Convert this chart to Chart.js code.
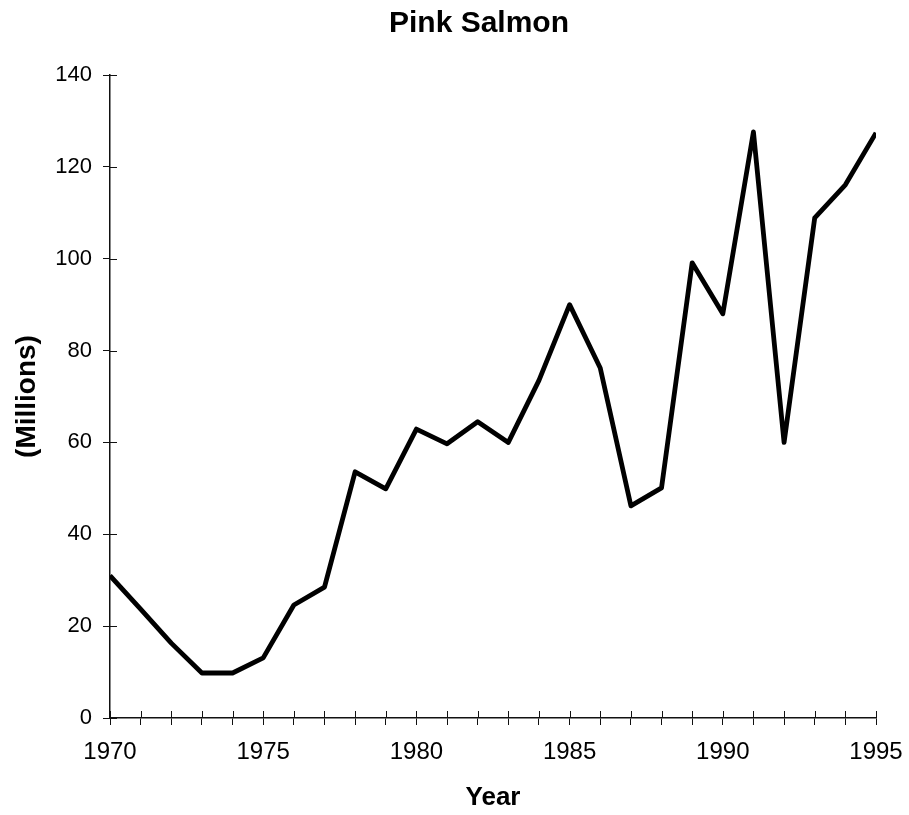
<!DOCTYPE html>
<html>
<head>
<meta charset="utf-8">
<script src="https://cdn.jsdelivr.net/npm/chart.js@4/dist/chart.umd.min.js"></script>
<style>
body{margin:0;background:#fff;}
#wrap{width:909px;height:815px;position:relative;}
</style>
</head>
<body>
<div id="wrap"><canvas id="salmonChart"></canvas></div>
<script>

/* =====================
   Data
===================== */

const years=[1970,1971,1972,1973,1974,1975,1976,1977,1978,1979,1980,1981,1982,1983,1984,1985,1986,1987,1988,1989,1990,1991,1992,1993,1994,1995];

const catchMillions=[31.0,23.7,16.3,9.8,9.8,13.1,24.6,28.5,53.6,49.9,62.9,59.7,64.5,60.0,73.5,90.0,76.2,46.2,50.1,99.1,88.0,127.6,60.0,108.9,116.1,127.4];

const chartTitle="Pink Salmon";

const xTitle="Year";

const yTitle="(Millions)";

const yMax=140;

const yStep=20;

const labelEvery=5;



const points=years.map((y,i)=>({x:y,y:catchMillions[i]}));

const FONT="'Liberation Sans', Arial, Helvetica, sans-serif";



/* =====================
   Plugins
===================== */

// ticks in the reference cross the axis, chart.js only draws the outer half
const innerTicks={
id:"innerTicks",
afterDraw(chart){
const c=chart.ctx;
const xs=chart.scales.x;
const ys=chart.scales.y;
const len=7;
c.save();
c.strokeStyle="#111";
c.lineWidth=1;
c.beginPath();
xs.ticks.forEach(t=>{
const px=Math.round(xs.getPixelForValue(t.value))+0.5;
c.moveTo(px,xs.top);
c.lineTo(px,xs.top-len);
});
ys.ticks.forEach(t=>{
const py=Math.round(ys.getPixelForValue(t.value))+0.5;
c.moveTo(ys.right,py);
c.lineTo(ys.right+len,py);
});
c.stroke();
c.restore();
}
};

const titleText={
id:"titleText",
afterDraw(chart){
const c=chart.ctx;
c.save();
c.fillStyle="#000";
c.font="bold 30px "+FONT;
c.textAlign="center";
c.textBaseline="middle";
c.fillText(chartTitle,479,24);
c.restore();
}
};



/* =====================
   Chart
===================== */

const ctx=document.getElementById("salmonChart").getContext("2d");

new Chart(ctx,{

type:"line",

data:{
datasets:[
{
label:"Pink Salmon",
data:points,
borderColor:"#000",
borderWidth:4.8,
borderJoinStyle:"round",
pointRadius:0,
tension:0,
fill:false
}
]
},

options:{
responsive:true,
maintainAspectRatio:false,
animation:false,
layout:{padding:{top:75,right:33,left:0,bottom:0}},
plugins:{
legend:{display:false},
tooltip:{enabled:false},
title:{display:false}
},
scales:{
x:{
type:"linear",
min:years[0],
max:years[years.length-1],
offset:false,
afterFit(s){
s.height=97;
s.paddingLeft=0;
s.paddingRight=0;
},
border:{display:true,color:"#111",width:1.5},
grid:{drawOnChartArea:false,drawTicks:true,tickLength:7,color:"#111",lineWidth:1},
ticks:{
stepSize:1,
autoSkip:false,
maxRotation:0,
padding:13,
color:"#000",
font:{family:FONT,size:24},
callback:v=>v%labelEvery===0?String(v):""
},
title:{
display:true,
text:xTitle,
color:"#000",
font:{family:FONT,size:26,weight:"bold"},
padding:{top:0,bottom:2}
}
},
y:{
min:0,
max:yMax,
afterFit(s){s.width=110;},
border:{display:true,color:"#111",width:1.5},
grid:{drawOnChartArea:false,drawTicks:true,tickLength:7,color:"#111",lineWidth:1},
ticks:{
stepSize:yStep,
padding:11,
color:"#000",
font:{family:FONT,size:22}
},
title:{
display:true,
text:yTitle,
color:"#000",
font:{family:FONT,size:28,weight:"bold"},
padding:{top:10,bottom:0}
}
}
}
},

plugins:[innerTicks,titleText]

});

</script>
</body>
</html>
